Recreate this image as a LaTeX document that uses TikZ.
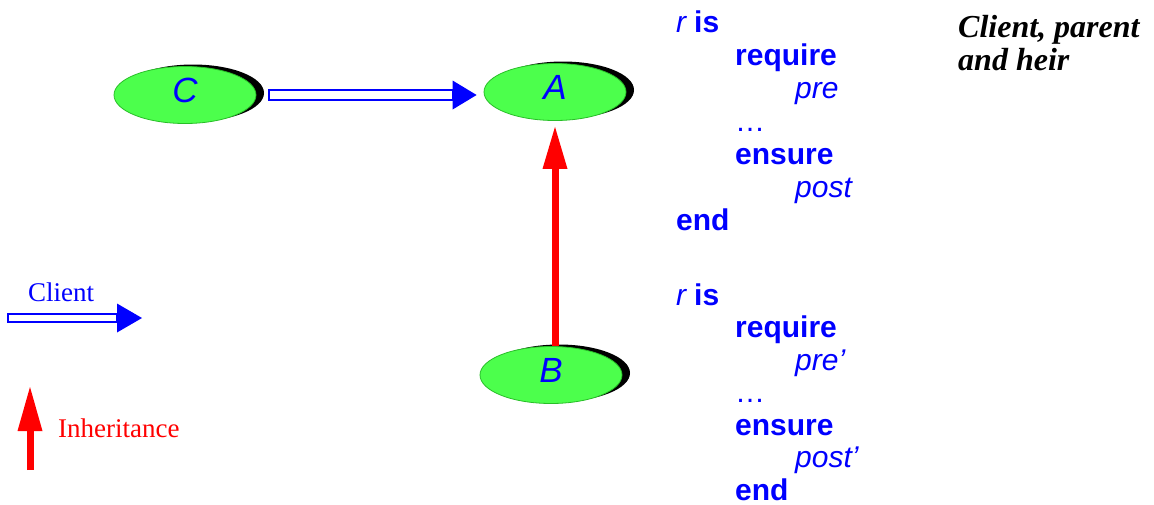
\documentclass[tikz,border=0pt]{standalone}
\usepackage{fontspec}
\setmainfont{Liberation Serif}
\setsansfont{Liberation Sans}
\usetikzlibrary{shapes.geometric,shadows,arrows.meta,calc}
\definecolor{nodegreen}{RGB}{76,255,76}
\definecolor{nodeedge}{RGB}{40,190,40}
\begin{document}
\begin{tikzpicture}[x=1pt,y=-1pt,
  class/.style={ellipse, fill=nodegreen, draw=nodeedge, line width=0.8pt,
    minimum width=142pt, minimum height=57pt, inner sep=0pt, text=blue,
    font=\sffamily\itshape\fontsize{35}{35}\selectfont, text depth=9pt,
    drop shadow={shadow xshift=8pt, shadow yshift=2pt, fill=black, opacity=1}},
  code/.style={anchor=base west, inner sep=0pt, text=blue,
    font=\sffamily\fontsize{30}{33}\selectfont},
  kw/.style={code, font=\sffamily\bfseries\fontsize{30}{33}\selectfont},
  ex/.style={code, font=\sffamily\itshape\fontsize{30}{33}\selectfont},
  legend/.style={anchor=base west, inner sep=0pt, font=\rmfamily\fontsize{27}{30}\selectfont},
  title/.style={anchor=base west, inner sep=0pt, text=black,
    font=\rmfamily\bfseries\itshape\fontsize{32}{33}\selectfont},
  shaft/.style={draw=blue, line width=2pt, fill=white},
  inherit/.style={red, line width=7pt,
    -{Triangle[length=42pt,width=25pt,line width=0pt]}},
]
\useasboundingbox (0,0) rectangle (1154,504);

% classes
\node[class] (C) at (185,95) {C};
\node[class] (A) at (555,92) {A};
\node[class] (B) at (551,375) {B};

% client arrow C -> A: hollow shaft with a solid head
\coordinate (c0) at ($(C.east)+(13,0)$);
\coordinate (c1) at ($(C.east -| A.west)+(-7,0)$);
\draw[shaft] ($(c0)+(0,-5)$) rectangle ($(c1)+(-24,5)$);
\fill[blue] ($(c1)+(-24,-14.5)$) -- (c1) -- ($(c1)+(-24,14.5)$) -- cycle;

% inheritance arrow B -> A
\draw[inherit] (B.north -| A.south) -- ($(A.south)+(0,6)$);

% legend
\node[legend, text=blue] (lc) at (28,301) {Client};
\coordinate (l0) at (8,318);
\coordinate (l1) at (142,318);
\draw[shaft] ($(l0)+(0,-4)$) rectangle ($(l1)+(-25,4)$);
\fill[blue] ($(l1)+(-25,-14.5)$) -- (l1) -- ($(l1)+(-25,14.5)$) -- cycle;

\coordinate (h0) at (30,470);
\coordinate (h1) at (30,387);
\draw[inherit, -{Triangle[length=44pt,width=25pt,line width=0pt]}] (h0) -- (h1);
\node[legend, text=red] (li) at (58,437) {Inheritance};

% routine text of A
\node[code] (r1) at (676,32) {\textit{r}\hspace{7pt}\textbf{is}};
\node[kw] (req1) at (735,65) {require};
\node[ex] (pre1) at (795,98) {pre};
\node[code] (dot1) at (735,131) {…};
\node[kw] (ens1) at (735,164) {ensure};
\node[ex] (post1) at (795,197) {post};
\node[kw] (end1) at (676,230) {end};

% redefined routine text of B
\node[code] (r2) at (676,305) {\textit{r}\hspace{7pt}\textbf{is}};
\node[kw] (req2) at (735,337.5) {require};
\node[ex] (pre2) at (795,370) {pre’};
\node[code] (dot2) at (735,402.5) {…};
\node[kw] (ens2) at (735,435) {ensure};
\node[ex] (post2) at (795,467.5) {post’};
\node[kw] (end2) at (735,500) {end};

% title
\node[title] (t1) at (958,37) {Client, parent};
\node[title] (t2) at (958,70) {and heir};
\end{tikzpicture}
\end{document}
